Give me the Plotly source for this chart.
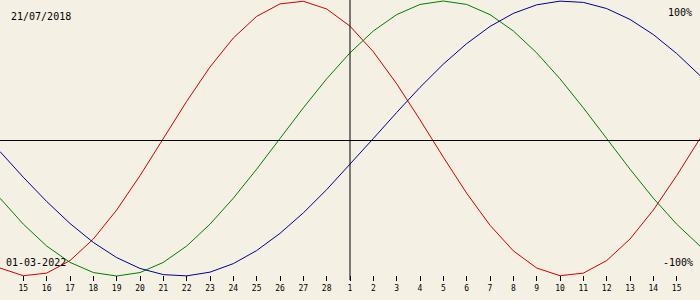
import plotly.graph_objects as go

# Day offsets relative to the selected date (01-03-2022), Feb 14 .. Mar 16
offsets = list(range(-15, 16))
tick_offsets = list(range(-14, 15))
tick_labels = ["15", "16", "17", "18", "19", "20", "21", "22", "23", "24", "25", "26", "27", "28",
               "1", "2", "3", "4", "5", "6", "7", "8", "9", "10", "11", "12", "13", "14", "15"]

physical = [-0.942, -0.998, -0.979, -0.888, -0.731, -0.520, -0.270, 0.000, 0.270, 0.520,
            0.731, 0.888, 0.979, 0.998, 0.942, 0.817, 0.631, 0.398, 0.136, -0.136,
            -0.398, -0.631, -0.817, -0.942, -0.998, -0.979, -0.888, -0.731, -0.520, -0.270, 0.000]
emotional = [-0.434, -0.623, -0.782, -0.901, -0.975, -1.000, -0.975, -0.901, -0.782, -0.623,
             -0.434, -0.223, 0.000, 0.223, 0.434, 0.623, 0.782, 0.901, 0.975, 1.000,
             0.975, 0.901, 0.782, 0.623, 0.434, 0.223, 0.000, -0.223, -0.434, -0.623, -0.782]
intellectual = [-0.095, -0.282, -0.458, -0.618, -0.756, -0.866, -0.945, -0.990, -0.999, -0.972,
                -0.910, -0.815, -0.690, -0.541, -0.372, -0.189, 0.000, 0.189, 0.372, 0.541,
                0.690, 0.815, 0.910, 0.972, 0.999, 0.990, 0.945, 0.866, 0.756, 0.618, 0.458]

birth_label = "21/07/2018"
date_label = "01-03-2022"

W, H = 700, 300
BG = "#f4f0e4"
MONO = "DejaVu Sans Mono"

fig = go.Figure()
for vals, col in [(physical, "#d40000"), (emotional, "#007f00"), (intellectual, "#000090")]:
    fig.add_trace(go.Scatter(x=offsets, y=vals, mode="lines",
                             line=dict(color=col, width=1), hoverinfo="skip",
                             showlegend=False))

# pixel mapping: value 1 -> y=1px, value -1 -> y=276px
ppu = 137.5
ymax = 1 + 1 / ppu
ymin = ymax - H / ppu

fig.update_layout(
    width=W, height=H,
    margin=dict(l=0, r=0, t=0, b=0),
    paper_bgcolor=BG, plot_bgcolor=BG,
    xaxis=dict(range=[-15, 15], showgrid=False, zeroline=False, showline=False,
               tickvals=tick_offsets, ticktext=tick_labels,
               ticks="outside", ticklen=5, tickwidth=1, tickcolor="black",
               tickfont=dict(family=MONO, size=8, color="black"),
               anchor="free", position=1 - 275 / H, fixedrange=True),
    yaxis=dict(range=[ymin, ymax], showgrid=False, zeroline=False, showline=False,
               showticklabels=False, fixedrange=True),
    shapes=[
        dict(type="line", xref="paper", yref="paper", x0=0, x1=1,
             y0=1 - 140.5 / H, y1=1 - 140.5 / H, line=dict(color="black", width=1)),
        dict(type="line", xref="x", yref="paper", x0=0, x1=0,
             y0=1, y1=1 - 280 / H, line=dict(color="black", width=1)),
    ],
    annotations=[
        dict(text=birth_label, xref="paper", yref="paper", x=9 / W, y=1 - 17 / H,
             xanchor="left", yanchor="middle", showarrow=False,
             font=dict(family=MONO, size=10, color="black")),
        dict(text=date_label, xref="paper", yref="paper", x=4 / W, y=1 - 262 / H,
             xanchor="left", yanchor="middle", showarrow=False,
             font=dict(family=MONO, size=10, color="black")),
        dict(text="100%", xref="paper", yref="paper", x=694 / W, y=1 - 12 / H,
             xanchor="right", yanchor="middle", showarrow=False,
             font=dict(family=MONO, size=10, color="black")),
        dict(text="-100%", xref="paper", yref="paper", x=695 / W, y=1 - 262 / H,
             xanchor="right", yanchor="middle", showarrow=False,
             font=dict(family=MONO, size=10, color="black")),
    ],
)

fig.write_html("out.html", config={"displayModeBar": False})
